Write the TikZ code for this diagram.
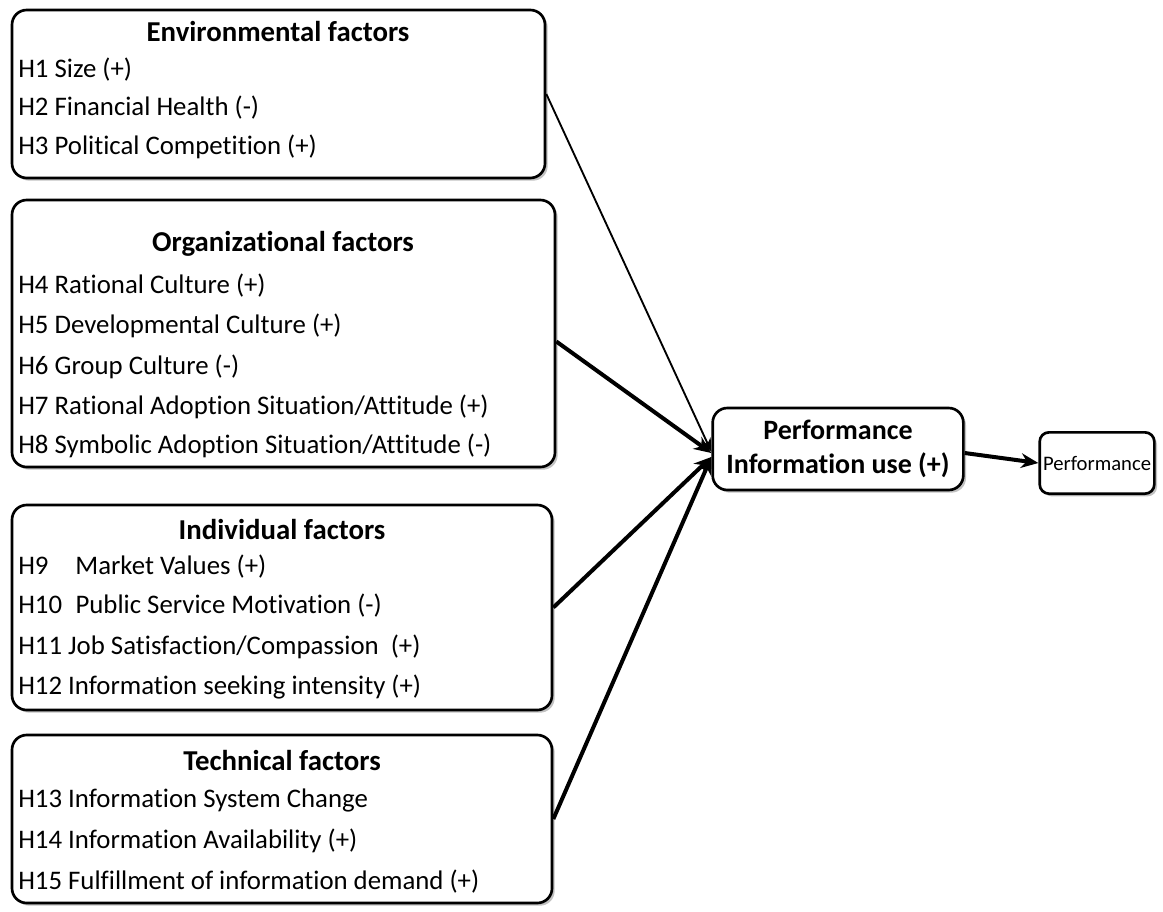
\documentclass[tikz,border=0pt]{standalone}
\usepackage{fontspec}
\setmainfont{Carlito}[Ligatures=NoCommon]
\usetikzlibrary{arrows.meta,positioning,fit,shadows}

\begin{document}
\begin{tikzpicture}[x=0.75pt,y=-0.75pt, every node/.style={font=\fontsize{20.1}{24}\selectfont},
  factorbox/.style={draw,line width=2pt,rounded corners=11pt,inner sep=0pt,fill=white,drop shadow={shadow xshift=2pt,shadow yshift=-2pt,fill=black!40,opacity=.6}},
  boxtitle/.style={font=\fontsize{21.6}{26}\selectfont\bfseries},
  item/.style={anchor=west,inner sep=0pt},
  link/.style={-{Stealth[length=13pt,width=11pt]},line width=3pt}]
\useasboundingbox (0,0) rectangle (1163,911);
% factor boxes
\node[factorbox,fit={(12,10) (545,178)}] (env) {};
\node[factorbox,fit={(12,200) (555,467)}] (org) {};
\node[factorbox,fit={(12,505) (552,710)}] (ind) {};
\node[factorbox,fit={(12,735) (552,903)}] (tech) {};
\node[boxtitle] (envt) at (278,31) {Environmental factors};
\node[boxtitle] (orgt) at (283,244) {Organizational factors};
\node[boxtitle] (indt) at (282,529) {Individual factors};
\node[boxtitle] (techt) at (282,760) {Technical factors};
\foreach \y/\t in {70/{H1 Size (+)},108/{H2 Financial Health (-)},147/{H3 Political Competition (+)}}
  \node[item] (env-\y) at (18,\y) {\t};
\foreach \y/\t in {286/{H4 Rational Culture (+)},326/{H5 Developmental Culture (+)},367/{H6 Group Culture (-)},407/{H7 Rational Adoption Situation/Attitude (+)},446/{H8 Symbolic Adoption Situation/Attitude (-)}}
  \node[item] (org-\y) at (18,\y) {\t};
\foreach \y/\t in {567/{H9\hspace{1em}Market Values (+)},606/{H10\hspace{0.5em}Public Service Motivation (-)},647/{H11 Job Satisfaction/Compassion\hspace{0.45em}(+)},687/{H12 Information seeking intensity (+)}}
  \node[item] (ind-\y) at (18,\y) {\t};
\foreach \y/\t in {800/{H13 Information System Change},841/{H14 Information Availability (+)},882/{H15 Fulfillment of information demand (+)}}
  \node[item] (tech-\y) at (18,\y) {\t};
% outcome boxes
\node[factorbox,font=\fontsize{21}{25}\selectfont\bfseries,align=center,minimum width=188pt,minimum height=61.5pt] (piu) at (838,449) {Performance\\Information use (+)};
\node[factorbox,font=\fontsize{15.5}{18}\selectfont,minimum width=86pt,minimum height=46pt,rounded corners=7pt] (perf) at (1097,463) {Performance};
\draw[-{Stealth[length=10pt,width=8pt]},line width=1.4pt] (env.east) -- ([yshift=-2pt]piu.west);
\draw[link] ([yshift=-6pt]org.east) -- ([yshift=-3pt]piu.west);
\draw[link] (ind.east) -- ([yshift=-6pt]piu.west);
\draw[link] (tech.east) -- ([yshift=-6pt]piu.west);
\draw[link] ([yshift=-3pt]piu.east) -- (perf.west);
\end{tikzpicture}
\end{document}
